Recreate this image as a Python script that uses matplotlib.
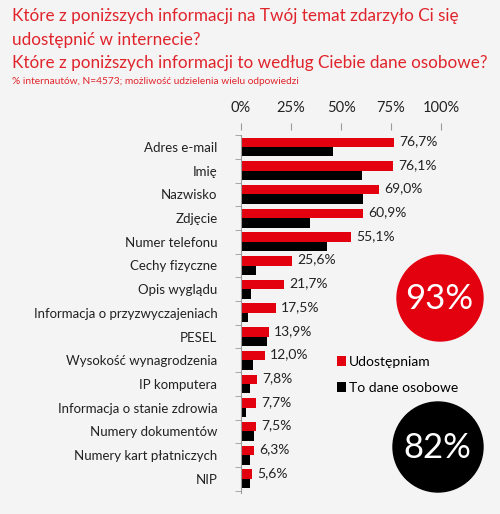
import numpy as np
import matplotlib.pyplot as plt
from matplotlib.patches import Circle

categories = [
    "Adres e-mail", "Imię", "Nazwisko", "Zdjęcie", "Numer telefonu",
    "Cechy fizyczne", "Opis wyglądu", "Informacja o przyzwyczajeniach",
    "PESEL", "Wysokość wynagrodzenia", "IP komputera",
    "Informacja o stanie zdrowia", "Numery dokumentów",
    "Numery kart płatniczych", "NIP",
]
shared = [76.7, 76.1, 69.0, 60.9, 55.1, 25.6, 21.7, 17.5, 13.9, 12.0, 7.8, 7.7, 7.5, 6.3, 5.6]
personal = [46.0, 60.3, 61.0, 34.5, 42.8, 7.5, 5.0, 3.7, 13.2, 5.8, 4.5, 2.5, 6.5, 4.5, 4.5]
xticks = [0, 25, 50, 75, 100]
total_shared = 93
total_personal = 82

RED = "#e3000f"
TITLE_RED = "#e0242b"
BG = "#f4f4f4"
GRAY = "#9a9a9a"

plt.rcParams["font.family"] = ["Lato", "DejaVu Sans"]

W, H = 500, 514
fig = plt.figure(figsize=(W / 100, H / 100), dpi=100, facecolor=BG)

# bar axes placed in pixel terms: x 241..441, y 130..500 (from top)
ax = fig.add_axes([241 / W, 1 - 500 / H, 200 / W, 370 / H])
ax.set_facecolor("none")

y = np.arange(len(categories))
h = 0.4
ax.barh(y - h / 2, shared, height=h, color=RED, label="Udostępniam")
ax.barh(y + h / 2, personal, height=h, color="black", label="To dane osobowe")

for yi, v in zip(y, shared):
    ax.text(v + 2.6, yi - h / 2 - 0.05, f"{v:.1f}%".replace(".", ","),
            va="center", ha="left", fontsize=10, color="#222222")

ax.set_xlim(0, 100)
ax.set_ylim((500 - 147) / 23.7, -(147 - 130) / 23.7)
ax.xaxis.tick_top()
ax.set_xticks(xticks)
ax.set_xticklabels([f"{t}%" for t in xticks], fontsize=10.5, color="#222222")
ax.tick_params(axis="x", length=5, color=GRAY, pad=6, direction="out")

ax.set_yticks(y)
ax.set_yticklabels(categories, fontsize=9.5, color="#222222")
ax.tick_params(axis="y", which="major", length=0, pad=17)
ax.set_yticks(np.arange(len(categories) + 1) - 0.5, minor=True)
ax.tick_params(axis="y", which="minor", length=4, color=GRAY)

for s in ["right", "bottom", "top"]:
    ax.spines[s].set_visible(False)
ax.spines["left"].set_color(GRAY)
ax.spines["left"].set_bounds(-0.5, len(categories) - 0.4)

ax.legend(loc="upper left", bbox_to_anchor=(331 / W, 1 - 350 / H),
          bbox_transform=fig.transFigure, frameon=False, fontsize=10,
          handlelength=0.7, handleheight=0.7, handletextpad=0.2,
          labelspacing=1.05, borderaxespad=0)

# overlay for circles
ov = fig.add_axes([0, 0, 1, 1], zorder=-1)
ov.set_xlim(0, W)
ov.set_ylim(H, 0)
ov.axis("off")
ov.add_patch(Circle((440, 298), 43, color=RED))
ov.text(439, 299, f"{total_shared}%", color="white", fontsize=25,
        ha="center", va="center")
ov.add_patch(Circle((438, 447), 45, color="black"))
ov.text(437, 448, f"{total_personal}%", color="white", fontsize=25,
        ha="center", va="center")

fig.text(12 / W, 1 - 16 / H, "Które z poniższych informacji na Twój temat zdarzyło Ci się",
         color=TITLE_RED, fontsize=12.3, va="center")
fig.text(12 / W, 1 - 40 / H, "udostępnić w internecie?",
         color=TITLE_RED, fontsize=12.3, va="center")
fig.text(12 / W, 1 - 63 / H, "Które z poniższych informacji to według Ciebie dane osobowe?",
         color=TITLE_RED, fontsize=12.3, va="center")
fig.text(12 / W, 1 - 81 / H, "% internautów, N=4573; możliwość udzielenia wielu odpowiedzi",
         color=TITLE_RED, fontsize=7.3, va="center")

fig.savefig("out.png", dpi=100, facecolor=BG)
